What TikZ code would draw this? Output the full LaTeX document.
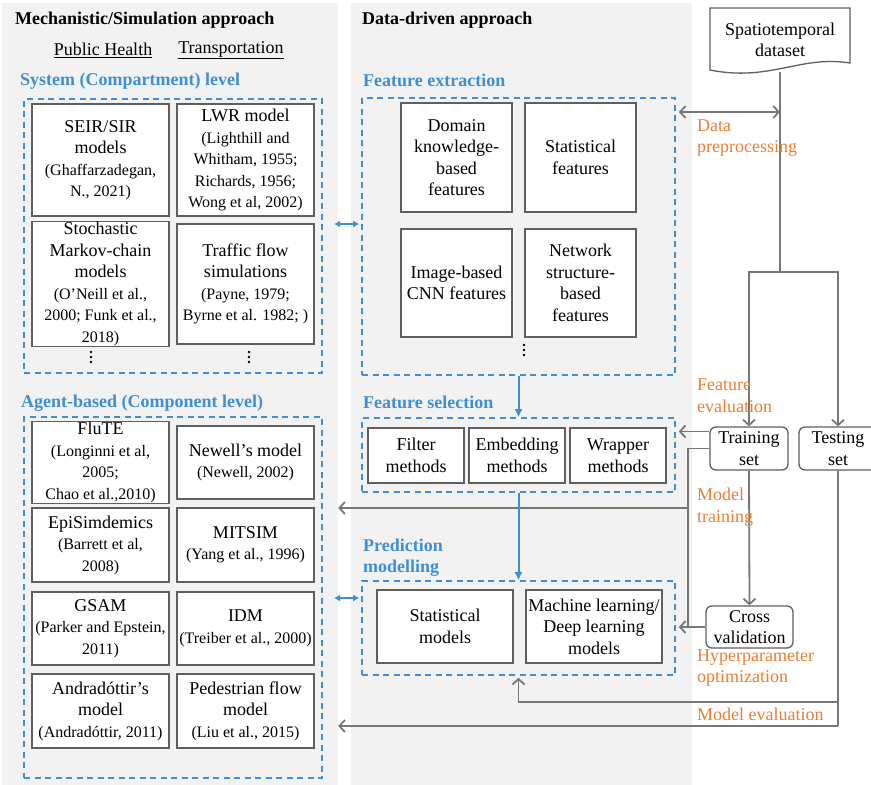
\documentclass[tikz,border=0pt]{standalone}
\usepackage{fontspec}
\setmainfont{Liberation Serif}
\usetikzlibrary{arrows.meta,positioning}
\definecolor{panelgray}{HTML}{F2F2F2}
\definecolor{dashblue}{HTML}{3F8FD2}
\definecolor{labelorange}{HTML}{ED7D31}
\definecolor{linegray}{HTML}{777777}
\definecolor{boxgray}{HTML}{5F5F5F}
\newcommand{\cit}[1]{{\fontsize{16}{18.5}\selectfont #1}}

\tikzset{
	panel/.style={fill=panelgray, draw=none, inner sep=0pt},
	dashbox/.style={draw=dashblue, line width=1.6pt, dash pattern=on 6pt off 4.5pt, inner sep=0pt},
	modelbox/.style={draw=boxgray, line width=1.3pt, fill=white, align=center, inner sep=1pt, font=\fontsize{18}{21.5}\selectfont},
	setbox/.style={modelbox, rounded corners=6pt},
	heading/.style={font=\bfseries\fontsize{18}{21}\selectfont, anchor=west, inner sep=0pt},
	levelhead/.style={heading, text=dashblue, align=left},
	note/.style={text=labelorange, font=\fontsize{18}{21.5}\selectfont, anchor=west, align=left, inner sep=0pt},
	flow/.style={draw=linegray, line width=1.8pt},
	flowarrow/.style={flow, -{Straight Barb[length=5.5pt, width=12pt]}},
	bluearrow/.style={draw=dashblue, line width=2pt, -{Latex[length=8pt, width=8pt]}},
	twoway/.style={draw=dashblue, line width=2pt, {Latex[length=6pt, width=7pt]}-{Latex[length=6pt, width=7pt]}},
}

\begin{document}
\begin{tikzpicture}[x=1pt, y=-1pt]
			%%%%% START %%%%%
			\useasboundingbox (0,0) rectangle (871,785);
			
			\node[panel, minimum width=336pt, minimum height=782pt] (mech) at (170,394) {};
			\node[panel, minimum width=341pt, minimum height=782pt] (datadriven) at (521.5,394) {};
			
			\node[heading] (mechtitle) at (15,20) {Mechanistic/Simulation approach};
			\node[heading] (ddtitle) at (362,20) {Data-driven approach};
			\node[font=\fontsize{18}{21}\selectfont, inner sep=0pt] (ph) at (103,50) {\underline{Public Health}};
			\node[font=\fontsize{18}{21}\selectfont, inner sep=0pt] (tr) at (231,50) {\underline{Transportation}};
			
			%% system level
			\node[levelhead] (syshead) at (20,81) {System (Compartment) level};
			\node[dashbox, minimum width=298pt, minimum height=274pt] (sys) at (173,236) {};
			\node[modelbox, minimum width=137pt, minimum height=112pt] (seir) at (100.5,160) {SEIR/SIR\\models\\\cit{(Ghaffarzadegan,}\\\cit{N., 2021)}};
			\node[modelbox, minimum width=137pt, minimum height=112pt] (lwr) at (245.5,160) {LWR model\\\cit{(Lighthill and}\\\cit{Whitham, 1955;}\\\cit{Richards, 1956;}\\\cit{Wong et al, 2002)}};
			\node[modelbox, minimum width=137pt, minimum height=120pt] (markov) at (100.5,284) {Stochastic\\Markov-chain\\models\\\cit{(O’Neill et al.,}\\\cit{2000; Funk et al.,}\\\cit{2018)}};
			\node[modelbox, minimum width=137pt, minimum height=120pt] (traffic) at (245.5,284) {Traffic flow\\simulations\\\cit{(Payne, 1979;}\\\cit{Byrne et al. 1982; )}};
			\foreach \dy in {-5,0,5} {
				\fill (91,357+\dy) circle (1.3pt);
				\fill (249,357+\dy) circle (1.3pt);
				\fill (524,350+\dy) circle (1.3pt);
			}
			
			%% agent level
			\node[levelhead] (agenthead) at (21,403) {Agent-based (Component level)};
			\node[dashbox, minimum width=298pt, minimum height=361pt] (agent) at (173,597.5) {};
			\node[modelbox, minimum width=137pt, minimum height=73pt] (flute) at (100.5,462.5) {FluTE\\\cit{(Longinni et al,}\\\cit{2005;}\\\cit{Chao et al.,2010)}};
			\node[modelbox, minimum width=137pt, minimum height=73pt] (newell) at (245.5,462.5) {Newell’s model\\\cit{(Newell, 2002)}};
			\node[modelbox, minimum width=137pt, minimum height=74pt] (episim) at (100.5,545) {EpiSimdemics\\\cit{(Barrett et al,}\\\cit{2008)}};
			\node[modelbox, minimum width=137pt, minimum height=74pt] (mitsim) at (245.5,545) {MITSIM\\\cit{(Yang et al., 1996)}};
			\node[modelbox, minimum width=137pt, minimum height=73pt] (gsam) at (100.5,628.5) {GSAM\\\cit{(Parker and Epstein,}\\\cit{2011)}};
			\node[modelbox, minimum width=137pt, minimum height=73pt] (idm) at (245.5,628.5) {IDM\\\cit{(Treiber et al., 2000)}};
			\node[modelbox, minimum width=137pt, minimum height=74pt] (andra) at (100.5,711) {Andradóttir’s\\model\\\cit{(Andradóttir, 2011)}};
			\node[modelbox, minimum width=137pt, minimum height=74pt] (pedestrian) at (245.5,711) {Pedestrian flow\\model\\\cit{(Liu et al., 2015)}};
			
			%% feature extraction
			\node[levelhead] (fexthead) at (363,80) {Feature extraction};
			\node[dashbox, minimum width=313pt, minimum height=277pt] (fext) at (518.5,236.5) {};
			\node[modelbox, minimum width=111pt, minimum height=109pt] (domain) at (456.5,157.5) {Domain\\knowledge-\\based\\features};
			\node[modelbox, minimum width=111pt, minimum height=109pt] (statfeat) at (580.5,157.5) {Statistical\\features};
			\node[modelbox, minimum width=111pt, minimum height=108pt] (cnn) at (456.5,283) {Image-based\\CNN features};
			\node[modelbox, minimum width=111pt, minimum height=108pt] (network) at (580.5,283) {Network\\structure-\\based\\features};
			
			%% feature selection
			\node[levelhead] (fselhead) at (363,402) {Feature selection};
			\node[dashbox, minimum width=313pt, minimum height=74pt] (fsel) at (518.5,455) {};
			\node[modelbox, minimum width=96pt, minimum height=55pt] (filter) at (416,455.5) {Filter\\methods};
			\node[modelbox, minimum width=96pt, minimum height=55pt] (embed) at (517,455.5) {Embedding\\methods};
			\node[modelbox, minimum width=96pt, minimum height=55pt] (wrapper) at (618,455.5) {Wrapper\\methods};
			
			%% prediction modelling
			\node[levelhead] (predhead) at (363,558) {Prediction\\modelling};
			\node[dashbox, minimum width=313pt, minimum height=94pt] (pred) at (518.5,628) {};
			\node[modelbox, minimum width=136pt, minimum height=73pt] (statmod) at (445,626.5) {Statistical\\models};
			\node[modelbox, minimum width=136pt, minimum height=73pt] (mlmod) at (594,626.5) {Machine learning/\\Deep learning\\models};
			
			%% data side
			\draw[draw=boxgray, line width=1.3pt, fill=white] (710,8) -- (850,8) -- (850,63) .. controls (800,55) and (770,82) .. (710,70) -- cycle;
			\node[font=\fontsize{18}{21.5}\selectfont, align=center, minimum width=140pt, minimum height=64pt, inner sep=0pt] (ds) at (780,40) {Spatiotemporal\\dataset};
			\node[setbox, minimum width=78pt, minimum height=43pt] (train) at (749,448.5) {Training\\set};
			\node[setbox, minimum width=78pt, minimum height=43pt] (test) at (838,448.5) {Testing\\set};
			\node[setbox, minimum width=87pt, minimum height=42pt] (cv) at (749.5,627) {Cross\\validation};
			
			\coordinate (split) at (ds.south |- 0,272);
			\coordinate (dp) at (ds.south |- 0,112);
			\coordinate (fe) at ([yshift=17pt]train.west);
			\coordinate (bus) at (688,627);
			\coordinate (mt) at (688,508);
			\coordinate (pe) at (test.south |- 0,702);
			\coordinate (me) at (test.south |- 0,726);
			\coordinate (sx1) at (334,224);
			\coordinate (sx2) at (334,598);
			
			\draw[flow] (ds.south) -- (split);
			\draw[flowarrow] (split) -| (train.north);
			\draw[flowarrow] (split) -| (test.north);
			\draw[flow, {Straight Barb[length=5.5pt, width=12pt]}-{Straight Barb[length=5.5pt, width=12pt]}, shorten <=3pt] (dp -| fext.east) -- (dp);
			\draw[flowarrow, shorten >=3pt] (fe) -- (fe -| fsel.east);
			\draw[flow] (train.west) -| (bus);
			\draw[flowarrow] (mt) -- (mt -| mech.east);
			\draw[flowarrow] (train.south) -- (cv.north);
			\draw[flowarrow, shorten >=3pt] (cv.west) -- (cv.west -| pred.east);
			\draw[flow] (test.south) -- (me);
			\draw[flowarrow] (me) -- (me -| mech.east);
			\draw[flowarrow, shorten >=2pt] (pe) -| (pred.south);
			
			\draw[bluearrow] (fext.south) -- (fsel.north);
			\draw[bluearrow] (fsel.south) -- (pred.north);
			\draw[twoway, shorten >=2pt] (sx1) -- (sx1 -| fext.west);
			\draw[twoway, shorten >=2pt] (sx2) -- (sx2 -| pred.west);
			
			\node[note] (datapre) at (697,138) {Data\\preprocessing};
			\node[note] (feateval) at (697,395.5) {Feature\\evaluation};
			\node[note] (modtrain) at (697,507) {Model\\training};
			\node[note] (hyper) at (697,668) {Hyperparameter\\optimization};
			\node[note] (modeval) at (697,714) {Model evaluation};
			
			%%%%% END %%%%%
\end{tikzpicture}
\end{document}
